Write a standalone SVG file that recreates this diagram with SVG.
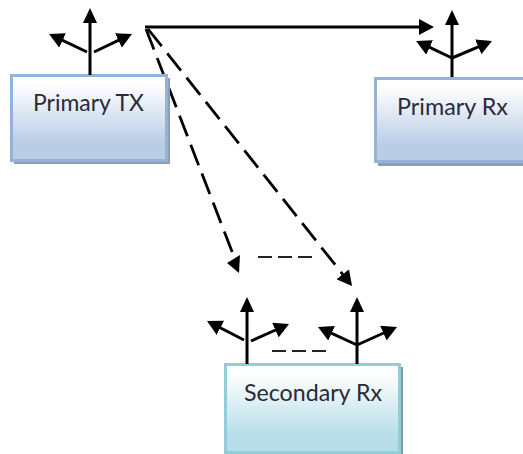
<svg xmlns="http://www.w3.org/2000/svg" width="523" height="454" viewBox="0 0 523 454">
<style>
.lbl{font-family:Lato,"Noto Sans","Liberation Sans",sans-serif;font-size:23px;fill:#2a2a3a}
.ln{stroke:#000;stroke-width:3;fill:none}
.dash{stroke:#000;stroke-width:2.8;fill:none;stroke-dasharray:22 9}
.dashs{stroke:#222;stroke-width:1.8;fill:none;stroke-dasharray:14 6}
.blue{fill:url(#gb);stroke:#95b3d7;stroke-width:3}
.teal{fill:url(#gt);stroke:#92cddc;stroke-width:3}
</style>
<defs>
<linearGradient id="gb" x1="0" y1="0" x2="0" y2="1"><stop offset="0.1" stop-color="#fff"/><stop offset="0.8" stop-color="#b9cde5"/></linearGradient>
<linearGradient id="gt" x1="0" y1="0" x2="0" y2="1"><stop offset="0.1" stop-color="#fff"/><stop offset="0.8" stop-color="#b7dee8"/></linearGradient>
<marker id="ah" markerUnits="userSpaceOnUse" markerWidth="16" markerHeight="16" refX="4" refY="8" orient="auto"><path d="M0 0L15 8L0 16Z" fill="#000"/></marker>
</defs>
<g id="connectors">
<path class="ln" d="M145 27H423" marker-end="url(#ah)"/>
<path class="dash" d="M146 29L233 254"/>
<path d="M227 263L240 255L239 273Z" fill="#000"/>
<path class="dash" d="M148 29L345.200 277.400" marker-end="url(#ah)"/>
<path class="dashs" d="M258 257H312"/>
<path class="dashs" d="M272 351H326"/>
</g>
<g id="primary-tx">
<rect x="14" y="78" width="156" height="86" fill="#8e9eb3"/>
<rect class="blue" x="11.500" y="75.500" width="155" height="85"/>
<text class="lbl" x="33" y="111" textLength="111" lengthAdjust="spacingAndGlyphs">Primary TX</text>
<path class="ln" d="M90 75V22"/>
<path d="M90 8L83 23H97Z" fill="#000"/>
<path class="ln" d="M87 52L59 38.700" marker-end="url(#ah)"/>
<path class="ln" d="M94 52L122 38.700" marker-end="url(#ah)"/>
</g>
<g id="primary-rx">
<rect x="378" y="81" width="150" height="85" fill="#8e9eb3"/>
<rect class="blue" x="375.500" y="78.500" width="155" height="83"/>
<text class="lbl" x="397" y="115" textLength="111" lengthAdjust="spacingAndGlyphs">Primary Rx</text>
<path class="ln" d="M452 77V24"/>
<path d="M452 10L445 25H459Z" fill="#000"/>
<path class="ln" d="M452 58L426 45.700" marker-end="url(#ah)"/>
<path class="ln" d="M452 58L481.900 45.300" marker-end="url(#ah)"/>
</g>
<g id="secondary-rx">
<rect x="228" y="367" width="175" height="87" fill="#7f9ea8"/>
<rect class="teal" x="225.500" y="364.500" width="174" height="88"/>
<text class="lbl" x="244" y="401" textLength="138" lengthAdjust="spacingAndGlyphs">Secondary Rx</text>
<path class="ln" d="M247 364V311"/>
<path d="M247 297L240 312H254Z" fill="#000"/>
<path class="ln" d="M244 340L216.800 326" marker-end="url(#ah)"/>
<path class="ln" d="M251 341L279 328.500" marker-end="url(#ah)"/>
<path class="ln" d="M357 364V311"/>
<path d="M357 297L350 312H364Z" fill="#000"/>
<path class="ln" d="M357 345L328 331.600" marker-end="url(#ah)"/>
<path class="ln" d="M357 345L387 331.500" marker-end="url(#ah)"/>
</g>
</svg>
